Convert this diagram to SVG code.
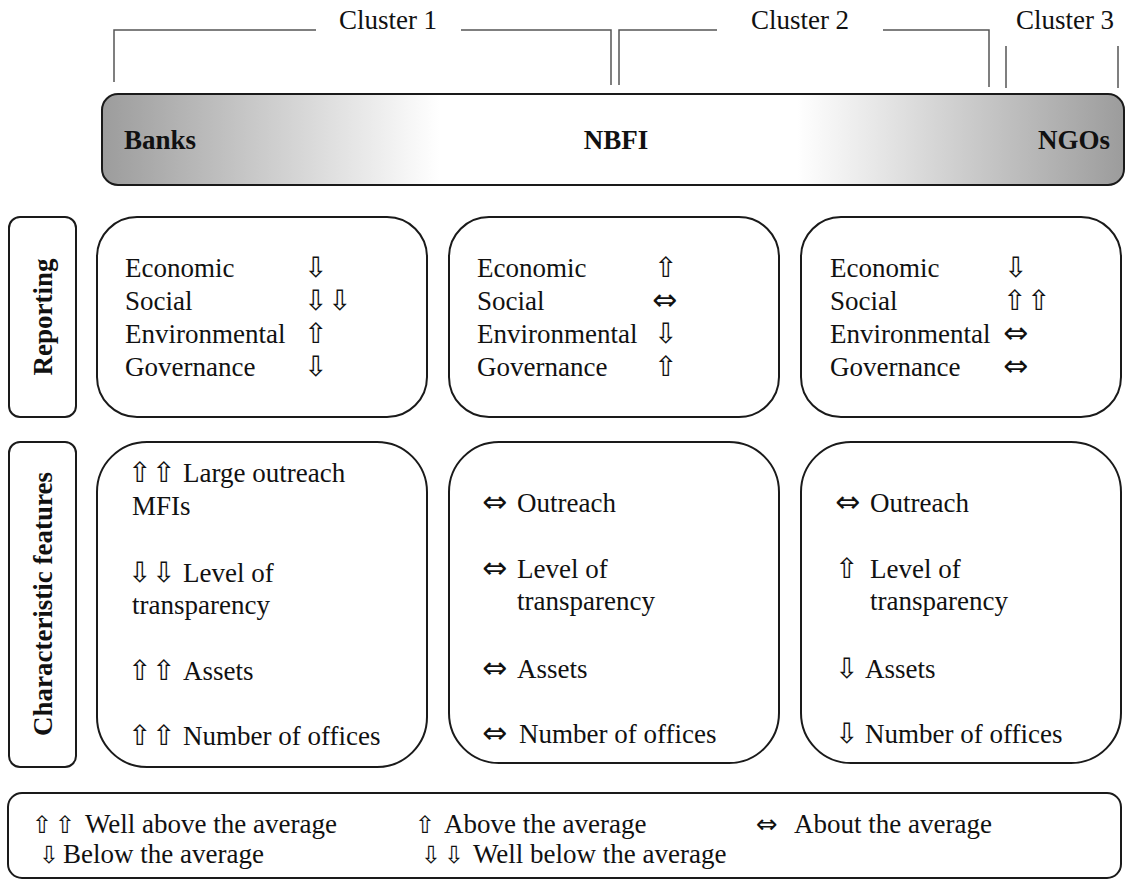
<svg xmlns="http://www.w3.org/2000/svg" width="1131" height="884" viewBox="0 0 1131 884">
<style>
.box{fill:#fff;stroke:#1a1a1a;stroke-width:2}
.br{fill:none;stroke:#555;stroke-width:1.5}
</style>
<defs>
<linearGradient id="g" gradientUnits="userSpaceOnUse" x1="102" y1="0" x2="1124" y2="0">
<stop offset="0" stop-color="#9c9c9c"/>
<stop offset="0.33" stop-color="#ffffff"/>
<stop offset="0.68" stop-color="#ffffff"/>
<stop offset="1" stop-color="#9c9c9c"/>
</linearGradient>
</defs>
<rect width="1131" height="884" fill="#fff"/>

<g id="cluster-brackets">
<path class="br" d="M114,82 V30 H316 M461,30 H611 V85"/>
<path class="br" d="M619,85 V30 H717 M883,30 H989 V87"/>
<path class="br" d="M1006,46 V88 M1118,46 V88"/>
</g>
<g id="cluster-labels" font-family="Liberation Serif" font-size="27" fill="#111" text-anchor="middle">
<text x="388" y="29">Cluster 1</text>
<text x="800" y="29">Cluster 2</text>
<text x="1065" y="29">Cluster 3</text>
</g>

<g id="types-bar" font-family="Liberation Serif" font-size="27" font-weight="bold" fill="#111">
<rect x="102" y="94" width="1022" height="91" rx="16" fill="url(#g)" stroke="#1a1a1a" stroke-width="2"/>
<text x="124" y="149">Banks</text>
<text x="616" y="149" text-anchor="middle">NBFI</text>
<text x="1110" y="149" text-anchor="end">NGOs</text>
</g>

<g id="label-reporting" font-family="Liberation Serif" font-size="27" font-weight="bold" fill="#111">
<rect class="box" x="9" y="217" width="67" height="200" rx="11"/>
<text transform="translate(52,317) rotate(-90)" text-anchor="middle">Reporting</text>
</g>

<g id="label-features" font-family="Liberation Serif" font-size="27" font-weight="bold" fill="#111">
<rect class="box" x="9" y="442" width="67" height="325" rx="11"/>
<text transform="translate(52,604) rotate(-90)" text-anchor="middle">Characteristic features</text>
</g>

<g id="reporting-banks" fill="#111">
<rect class="box" x="97" y="217" width="330" height="200" rx="40"/>
<g font-family="Liberation Serif" font-size="27">
<text x="125" y="277">Economic</text>
<text x="125" y="310">Social</text>
<text x="125" y="343">Environmental</text>
<text x="125" y="376">Governance</text>
</g>
<g font-family="DejaVu Sans" font-size="28">
<text x="304" y="277">⇩</text>
<text x="304" y="310">⇩</text>
<text x="328" y="310">⇩</text>
<text x="304" y="343">⇧</text>
<text x="304" y="376">⇩</text>
</g>
</g>

<g id="reporting-nbfi" fill="#111">
<rect class="box" x="449" y="217" width="330" height="200" rx="40"/>
<g font-family="Liberation Serif" font-size="27">
<text x="477" y="277">Economic</text>
<text x="477" y="310">Social</text>
<text x="477" y="343">Environmental</text>
<text x="477" y="376">Governance</text>
</g>
<g font-family="DejaVu Sans" font-size="28">
<text x="654" y="277">⇧</text>
<text x="652" y="310" font-size="30">⇔</text>
<text x="654" y="343">⇩</text>
<text x="654" y="376">⇧</text>
</g>
</g>

<g id="reporting-ngos" fill="#111">
<rect class="box" x="801" y="217" width="320" height="200" rx="40"/>
<g font-family="Liberation Serif" font-size="27">
<text x="830" y="277">Economic</text>
<text x="830" y="310">Social</text>
<text x="830" y="343">Environmental</text>
<text x="830" y="376">Governance</text>
</g>
<g font-family="DejaVu Sans" font-size="28">
<text x="1004" y="277">⇩</text>
<text x="1003" y="310">⇧</text>
<text x="1027" y="310">⇧</text>
<text x="1003" y="343" font-size="30">⇔</text>
<text x="1003" y="376" font-size="30">⇔</text>
</g>
</g>

<g id="features-banks" fill="#111">
<rect class="box" x="97" y="442" width="330" height="325" rx="50"/>
<g font-family="DejaVu Sans" font-size="28">
<text x="128" y="482">⇧</text>
<text x="152" y="482">⇧</text>
<text x="128" y="582">⇩</text>
<text x="152" y="582">⇩</text>
<text x="128" y="680">⇧</text>
<text x="152" y="680">⇧</text>
<text x="128" y="745">⇧</text>
<text x="152" y="745">⇧</text>
</g>
<g font-family="Liberation Serif" font-size="27">
<text x="183" y="482">Large outreach</text>
<text x="132" y="515">MFIs</text>
<text x="183" y="582">Level of</text>
<text x="132" y="614">transparency</text>
<text x="183" y="680">Assets</text>
<text x="183" y="745">Number of offices</text>
</g>
</g>

<g id="features-nbfi" fill="#111">
<rect class="box" x="449" y="442" width="330" height="321" rx="50"/>
<g font-family="DejaVu Sans" font-size="30">
<text x="482" y="512">⇔</text>
<text x="482" y="578">⇔</text>
<text x="482" y="678">⇔</text>
<text x="482" y="743">⇔</text>
</g>
<g font-family="Liberation Serif" font-size="27">
<text x="517" y="512">Outreach</text>
<text x="517" y="578">Level of</text>
<text x="517" y="610">transparency</text>
<text x="517" y="678">Assets</text>
<text x="519" y="743">Number of offices</text>
</g>
</g>

<g id="features-ngos" fill="#111">
<rect class="box" x="801" y="442" width="320" height="321" rx="50"/>
<g font-family="DejaVu Sans" font-size="28">
<text x="835" y="512" font-size="30">⇔</text>
<text x="835" y="578">⇧</text>
<text x="835" y="678">⇩</text>
<text x="835" y="743">⇩</text>
</g>
<g font-family="Liberation Serif" font-size="27">
<text x="870" y="512">Outreach</text>
<text x="870" y="578">Level of</text>
<text x="870" y="610">transparency</text>
<text x="865" y="678">Assets</text>
<text x="865" y="743">Number of offices</text>
</g>
</g>

<g id="legend" fill="#111">
<rect class="box" x="8" y="793" width="1113" height="85" rx="14"/>
<g font-family="DejaVu Sans" font-size="24">
<text x="32" y="833">⇧</text>
<text x="55" y="833">⇧</text>
<text x="415" y="833">⇧</text>
<text x="756" y="833" font-size="26">⇔</text>
<text x="39" y="863">⇩</text>
<text x="421" y="863">⇩</text>
<text x="444" y="863">⇩</text>
</g>
<g font-family="Liberation Serif" font-size="27">
<text x="85" y="833">Well above the average</text>
<text x="444" y="833">Above the average</text>
<text x="794" y="833">About the average</text>
<text x="63" y="863">Below the average</text>
<text x="473" y="863">Well below the average</text>
</g>
</g>
</svg>
